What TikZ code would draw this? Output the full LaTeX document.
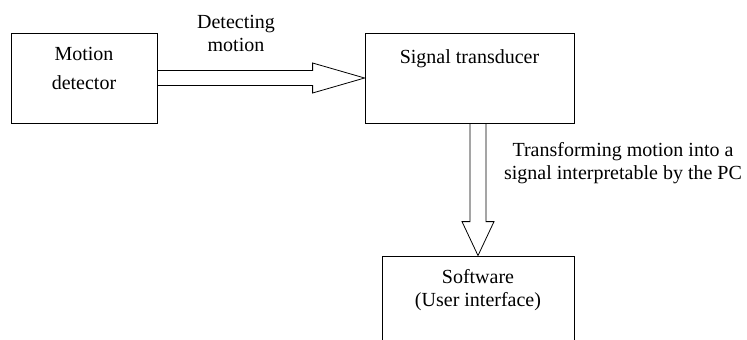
\documentclass[tikz,border=0pt]{standalone}
\usepackage{fontspec}
\setmainfont{Liberation Serif}
\usetikzlibrary{positioning, calc}

\begin{document}
\begin{tikzpicture}[x=1pt, y=-1pt,
    box/.style={draw, line width=0.8pt, inner sep=0pt},
    txt/.style={inner sep=0pt, align=center, font=\fontsize{20}{23}\selectfont},
    hollow/.style={draw, line width=0.8pt, line join=miter}]
      \useasboundingbox (0, 0) rectangle (747, 340);

      \node[box, minimum width=146pt, minimum height=90pt] (motion) at (84, 78) {};
      \node[box, minimum width=209pt, minimum height=90pt] (transducer) at (469.5, 78) {};
      \node[box, minimum width=192pt, minimum height=130pt] (software) at (478, 321) {};

      \node[txt, anchor=north, font=\fontsize{20}{29}\selectfont] (motiontxt) at ($(motion.north)+(0, 14)$) {Motion\\detector};
      \node[txt, anchor=north] (transducertxt) at ($(transducer.north)+(0, 17)$) {Signal transducer};
      \node[txt, anchor=north] (softwaretxt) at ($(software.north)+(0, 14)$) {Software\\(User interface)};

      % hollow arrows
      \path[hollow] ($(motion.east)+(0, -7.5)$) -- ($(transducer.west)+(-52, -7.5)$) -- ++(0, -7.5)
            -- (transducer.west) -- ++(-52, 15) -- ++(0, -7.5) -- ($(motion.east)+(0, 7.5)$);
      \path[hollow] ($(software.north |- transducer.south)+(-8, 0)$) -- ($(software.north)+(-8, -34)$) -- ++(-8, 0)
            -- (software.north) -- ++(16, -34) -- ++(-8, 0) -- ($(software.north |- transducer.south)+(8, 0)$);

      \node[txt, anchor=north] (detecting) at (236, 15) {Detecting\\motion};
      \node[txt, anchor=north] (transforming) at (623, 142) {Transforming motion into a\\signal interpretable by the PC};

    \end{tikzpicture}
\end{document}
